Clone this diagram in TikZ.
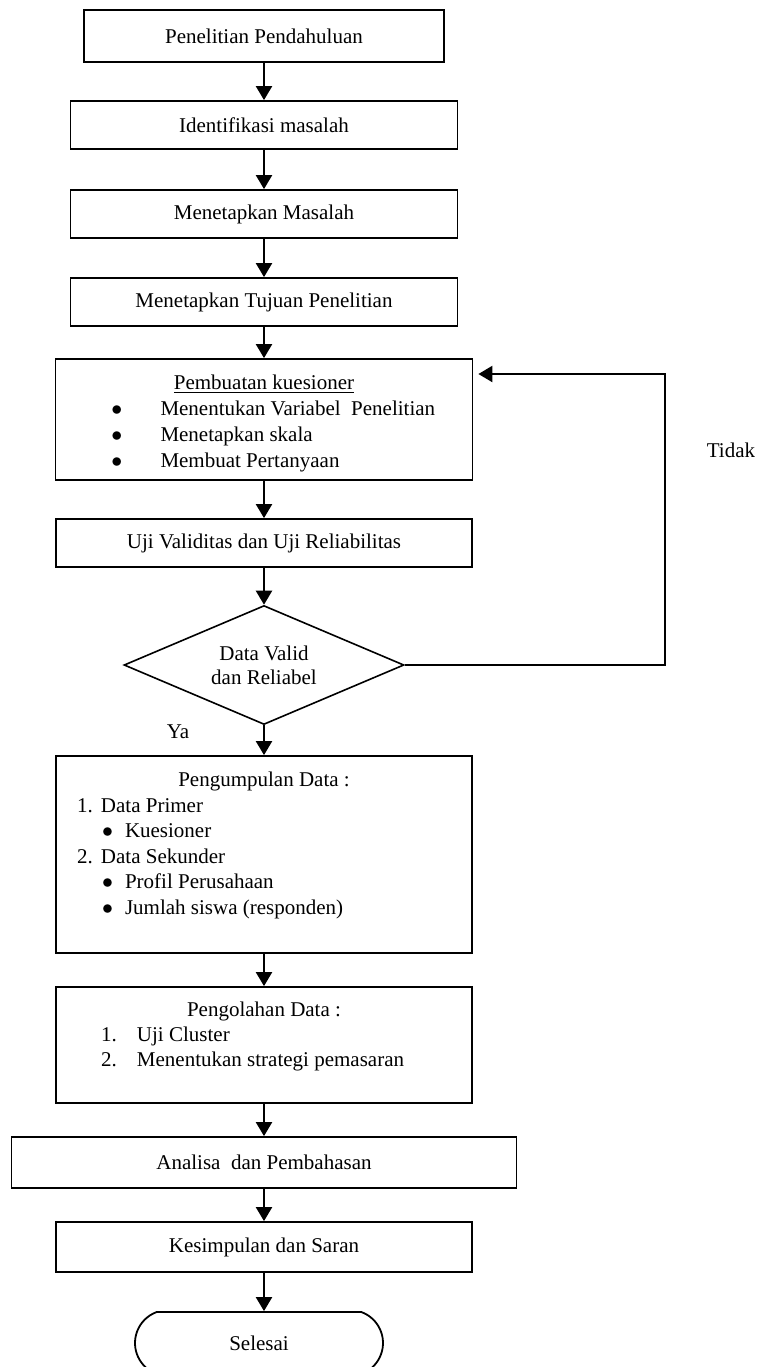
\documentclass[tikz,border=0pt]{standalone}
\usepackage{fontspec}
\setmainfont{Liberation Serif}
\usepackage{tikz}
\usetikzlibrary{positioning,shapes.geometric,shapes.misc,arrows.meta}

\newcommand{\ukuran}{\fontsize{10.5}{12.6}\selectfont}

\begin{document}
\begin{tikzpicture}[x=0.5pt,y=-0.5pt,
    box/.style={draw, line width=0.9pt, inner sep=0pt, font=\ukuran},
    cek/.style={diamond, draw, line width=0.8pt, aspect=2.35, inner sep=0pt, align=center, font=\fontsize{10.5}{12}\selectfont},
    ujung/.style={rounded rectangle, rounded rectangle arc length=140, draw, line width=0.9pt, inner sep=0pt, font=\ukuran},
    panah/.style={line width=1.1pt, -{Triangle[width=8pt,length=7pt]}},
    teks/.style={font=\ukuran}]
    \useasboundingbox (0,0) rectangle (760,1367);

    % tahap awal
    \node[box, minimum width=180pt, minimum height=26pt] (awal) at (264,36) {Penelitian Pendahuluan};
    \node[box, minimum width=193.5pt, minimum height=24pt] (identifikasi) at (264,125) {Identifikasi masalah};
    \node[box, minimum width=193.5pt, minimum height=24pt] (masalah) at (264,214) {Menetapkan Masalah};
    \node[box, minimum width=193.5pt, minimum height=24pt] (tujuan) at (264,302) {Menetapkan Tujuan Penelitian};

    % kuesioner dan uji
    \node[box] (kuesioner) at (264,419.5) {\parbox[c][60.5pt][t]{208.5pt}{\vspace*{8pt}\fontsize{10.5}{13}\selectfont
        \makebox[208.5pt]{\underline{Pembuatan kuesioner}}\\
        \hspace*{28pt}\makebox[24.5pt][l]{$\bullet$}Menentukan Variabel~ Penelitian\\
        \hspace*{28pt}\makebox[24.5pt][l]{$\bullet$}Menetapkan skala\\
        \hspace*{28pt}\makebox[24.5pt][l]{$\bullet$}Membuat Pertanyaan}};
    \node[box, minimum width=208pt, minimum height=24pt] (uji) at (264,543) {Uji Validitas dan Uji Reliabilitas};
    \node[cek, minimum width=140pt, minimum height=59.5pt] (valid) at (264,665) {Data Valid\\dan Reliabel};
    \node[teks] (ya) at (178,732) {Ya};
    \node[teks] (tidak) at (731,450) {Tidak};
    \coordinate (balik) at (665,374);

    % data
    \node[box] (kumpul) at (264,854.5) {\parbox[c][98.5pt][t]{208pt}{\vspace*{8pt}\fontsize{10.5}{12.75}\selectfont
        \makebox[208pt]{Pengumpulan Data :}\\
        \hspace*{10.5pt}\makebox[12pt][l]{1.}Data Primer\\
        \hspace*{23pt}\makebox[11.5pt][l]{$\bullet$}Kuesioner\\
        \hspace*{10.5pt}\makebox[12pt][l]{2.}Data Sekunder\\
        \hspace*{23pt}\makebox[11.5pt][l]{$\bullet$}Profil Perusahaan\\
        \hspace*{23pt}\makebox[11.5pt][l]{$\bullet$}Jumlah siswa (responden)}};
    \node[box] (olah) at (264,1045) {\parbox[c][58pt][t]{208pt}{\vspace*{7.5pt}\fontsize{10.5}{12.5}\selectfont
        \makebox[208pt]{Pengolahan Data :}\\
        \hspace*{22.5pt}\makebox[18pt][l]{1.}Uji Cluster\\
        \hspace*{22.5pt}\makebox[18pt][l]{2.}Menentukan strategi pemasaran}};

    % akhir
    \node[box, minimum width=252.5pt, minimum height=25.5pt] (analisa) at (264,1162.5) {Analisa~ dan Pembahasan};
    \node[box, minimum width=208pt, minimum height=25pt] (simpul) at (264,1247) {Kesimpulan dan Saran};
    \node[ujung, minimum width=124pt, minimum height=31pt] (selesai) at (259,1343) {Selesai};

    % panah
    \draw[panah] (awal) -- (identifikasi);
    \draw[panah] (identifikasi) -- (masalah);
    \draw[panah] (masalah) -- (tujuan);
    \draw[panah] (tujuan) -- (kuesioner);
    \draw[panah] (kuesioner) -- (uji);
    \draw[panah] (uji) -- (valid);
    \draw[panah] (valid) -- (kumpul);
    \draw[panah] (kumpul) -- (olah);
    \draw[panah] (olah) -- (analisa);
    \draw[panah] (analisa) -- (simpul);
    \draw[panah] (simpul) -- (simpul.south |- selesai.north);
    \draw[panah, shorten >=2.5pt] (valid.east) -| (balik) -- (kuesioner.east |- balik);
\end{tikzpicture}
\end{document}
